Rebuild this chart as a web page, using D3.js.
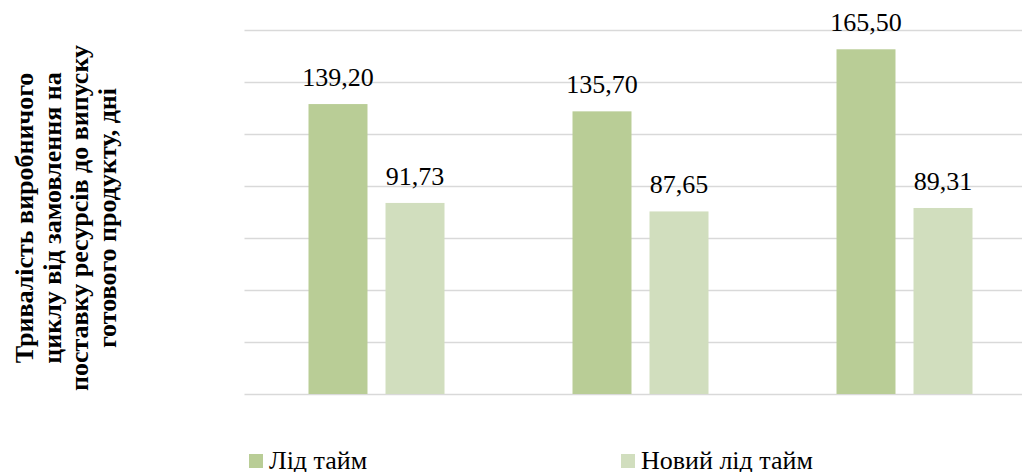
<!DOCTYPE html>
<html>
<head>
<meta charset="utf-8">
<script src="https://cdn.jsdelivr.net/npm/d3@7"></script>
<style>
  html, body { margin: 0; padding: 0; background: #fff; }
  svg { display: block; }
  text { font-family: "Times New Roman", "Liberation Serif", "DejaVu Serif", serif; }
</style>
</head>
<body>
<svg id="chart" width="1022" height="472"></svg>
<script>
const categories = ["1", "2", "3"];
const seriesNames = ["Лід тайм", "Новий лід тайм"];
const leadTime = [139.20, 135.70, 165.50];
const newLeadTime = [91.73, 87.65, 89.31];
const yTicks = [0, 25, 50, 75, 100, 125, 150, 175];
const yTitleLines = ["Тривалість виробничого", "циклу від замовлення на", "поставку ресурсів до випуску", "готового продукту, дні"];
const colors = ["#B9CD96", "#D1DEBE"];

const svg = d3.select("#chart");
const plotTop = 29.5, plotBottom = 394, plotLeft = 244.5, plotRight = 1036.5;

const y = d3.scaleLinear().domain([0, 175]).range([plotBottom, plotTop]);
const x0 = d3.scaleBand().domain(categories).range([plotLeft, plotRight]).paddingInner(0).paddingOuter(0);
const groupW = 136;
const x1 = d3.scaleBand().domain(seriesNames).range([-groupW / 2, groupW / 2]).paddingInner(0.234).paddingOuter(0);

// gridlines
svg.append("g").selectAll("line").data(yTicks).join("line")
  .attr("x1", plotLeft).attr("x2", plotRight)
  .attr("y1", d => Math.round(y(d)) + 0.5).attr("y2", d => Math.round(y(d)) + 0.5)
  .attr("stroke", "#D9D9D9").attr("stroke-width", 1.3);

const data = categories.map((c, i) => ({ c, vals: [leadTime[i], newLeadTime[i]] }));

const fmt = v => v.toFixed(2).replace(".", ",");

const g = svg.append("g").selectAll("g").data(data).join("g")
  .attr("transform", d => `translate(${x0(d.c) + x0.bandwidth() / 2},0)`);

g.selectAll("rect").data(d => d.vals.map((v, j) => ({ s: seriesNames[j], v, j }))).join("rect")
  .attr("x", d => x1(d.s)).attr("width", x1.bandwidth())
  .attr("y", d => y(d.v)).attr("height", d => y(0) - y(d.v))
  .attr("fill", d => colors[d.j]);

g.selectAll("text").data(d => d.vals.map((v, j) => ({ s: seriesNames[j], v, j }))).join("text")
  .attr("x", d => x1(d.s) + x1.bandwidth() / 2)
  .attr("y", d => y(d.v) - 18)
  .attr("text-anchor", "middle")
  .attr("font-size", 26).attr("fill", "#000")
  .text(d => fmt(d.v));

// y axis title
const title = svg.append("text")
  .attr("transform", "translate(33,218) rotate(-90)")
  .attr("text-anchor", "middle")
  .attr("font-weight", "bold").attr("font-size", 26).attr("fill", "#000");
title.selectAll("tspan").data(yTitleLines).join("tspan")
  .attr("x", 0).attr("y", (d, i) => i * 27.5).text(d => d);

// legend
const legendX = [249, 621];
const leg = svg.append("g").selectAll("g").data(seriesNames).join("g")
  .attr("transform", (d, i) => `translate(${legendX[i]},0)`);
leg.append("rect").attr("x", 0).attr("y", 454).attr("width", 14).attr("height", 14)
  .attr("fill", (d, i) => colors[i]);
leg.append("text").attr("x", 20).attr("y", 469)
  .attr("font-size", 26).attr("fill", "#000").text(d => d);
</script>
</body>
</html>
